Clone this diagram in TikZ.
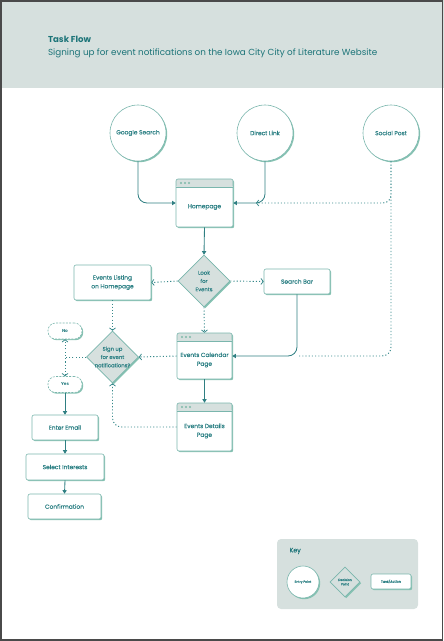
\documentclass[tikz,border=0pt]{standalone}
\usepackage{fontspec}
\setmainfont{Poppins}
\newfontfamily\popmed[FakeBold=0.2]{Poppins}
\usetikzlibrary{shapes.geometric,arrows.meta,shadows,calc}
\definecolor{hdr}{HTML}{D6E0DE}
\definecolor{tealtext}{HTML}{1C7478}
\definecolor{nodetext}{HTML}{2A7F83}
\definecolor{linec}{HTML}{2F7F82}
\definecolor{dotline}{HTML}{36888A}
\definecolor{boxc}{HTML}{7AB6AD}
\definecolor{shc}{HTML}{86C2B2}
\definecolor{dotc}{HTML}{7CB9A8}
\definecolor{framec}{HTML}{4A4A4A}
\tikzset{
  txt/.style={font=\popmed\fontsize{5.9}{8.8}\selectfont, text=nodetext, align=center},
  dtxt/.style={font=\popmed\fontsize{5.3}{8.3}\selectfont, text=nodetext, align=center},
  shad/.style={drop shadow={shadow xshift=1.2pt, shadow yshift=-1.2pt, fill=shc, opacity=1}},
  entry/.style={circle, draw=boxc, line width=0.6pt, fill=white, shad, minimum size=56pt, inner sep=0pt, txt},
  taskbox/.style={rectangle, rounded corners=2pt, draw=boxc, line width=0.6pt, fill=white, shad, inner sep=0pt, txt},
  pill/.style={rectangle, rounded corners=7.5pt, draw=boxc, line width=0.6pt, dash pattern=on 2pt off 1.3pt, fill=white, shad, inner sep=0pt, minimum width=34pt, minimum height=16pt, font=\bfseries\fontsize{4.3}{5}\selectfont, text=nodetext},
  decision/.style={diamond, draw=boxc, line width=0.6pt, fill=hdr, shad, inner sep=0pt, minimum width=52pt, minimum height=52pt},
  browser/.style={rectangle, rounded corners=2pt, draw=boxc, line width=0.6pt, fill=white, shad, inner sep=0pt,
    path picture={
      \fill[hdr] (path picture bounding box.north west) rectangle ([yshift=-8pt]path picture bounding box.north east);
      \draw[boxc, line width=0.6pt] ([yshift=-8pt]path picture bounding box.north west) -- ([yshift=-8pt]path picture bounding box.north east);
      \foreach \i in {0,1,2} \fill[dotc] ([xshift={5pt+\i*4pt}, yshift=-4pt]path picture bounding box.north west) circle (1.1pt);
    }},
  btext/.style={txt, yshift=-4pt},
  solidarrow/.style={draw=linec, line width=0.85pt, -{Triangle[length=3.5pt,width=4.2pt]}},
  dotpath/.style={draw=dotline, line width=0.95pt, dash pattern=on 1.1pt off 2.1pt},
  dotarrow/.style={dotpath, -{Straight Barb[length=2.3pt,width=6pt,line width=0.75pt]}}
}
\begin{document}
\begin{tikzpicture}[x=1pt,y=-1pt]
\useasboundingbox (0,0) rectangle (444,641);
\fill[hdr] (0,0) rectangle (444,88);
\node[anchor=west, font=\bfseries\fontsize{8.6}{10}\selectfont, text=tealtext] (title) at (44.5,39.5) {Task Flow};
\node[anchor=west, font=\fontsize{8.8}{10}\selectfont, text=tealtext] (subtitle) at (44.5,53) {Signing up for event notifications on the Iowa City City of Literature Website};

% entry points
\node[entry] (gs) at (138,133) {Google Search};
\node[entry] (dl) at (265,133) {Direct Link};
\node[entry] (sp) at (391,133) {Social Post};

% browser pages
\node[browser, minimum width=57pt, minimum height=48pt, label={[btext]center:Homepage}] (home) at (204.5,203) {};
\node[browser, minimum width=55pt, minimum height=46pt, label={[btext]center:Events Calendar\\Page}] (ec) at (204.5,356) {};
\node[browser, minimum width=55pt, minimum height=48pt, label={[btext]center:Events Details\\Page}] (ed) at (204.5,427) {};

% decisions
\node[decision, label={[dtxt]center:Look\\for\\Events}] (look) at (204,281) {};
\node[decision, label={[dtxt]center:Sign up\\for event\\notifications?}] (su) at (112.5,357) {};

% tasks
\node[taskbox, minimum width=77pt, minimum height=35pt] (evl) at (112.5,282.5) {Events Listing\\on Homepage};
\node[taskbox, minimum width=66pt, minimum height=25pt] (sb) at (297,281.5) {Search Bar};
\node[pill] (no) at (65,331) {No};
\node[pill] (yes) at (65,384.5) {Yes};
\node[taskbox, minimum width=66pt, minimum height=25pt] (email) at (65,427.5) {Enter Email};
\node[taskbox, minimum width=78pt, minimum height=26pt] (int) at (65,467) {Select Interests};
\node[taskbox, minimum width=73pt, minimum height=25pt] (conf) at (64.5,506.5) {Confirmation};

% connectors
\draw[solidarrow, rounded corners=9pt] (gs.south) |- (home.west);
\draw[solidarrow, rounded corners=9pt] (dl.south) |- (home.east);
\draw[dotarrow, rounded corners=8pt] (sp.south) |- ([xshift=-9pt]dl.south |- home.east);
\draw[dotpath, rounded corners=9pt] (sp.south) |- (sb.south |- ec.east);
\draw[solidarrow] (home.south) -- (look.north);
\draw[dotarrow] (look.west) -- (evl.east);
\draw[dotarrow] (look.east) -- (sb.west);
\draw[dotarrow] (look.south) -- (ec.north);
\draw[solidarrow, rounded corners=9pt] (sb.south) |- (ec.east);
\draw[dotarrow] (ec.west) -- (su.east);
\draw[dotarrow] (evl.south) -- (su.north);
\draw[dotarrow] (su.west) -| (no.south);
\draw[dotarrow] (su.west) -| (yes.north);
\draw[dotarrow, rounded corners=9pt] (ed.west) -| (su.south);
\draw[solidarrow] (yes.south) -- (email.north);
\draw[solidarrow] (email.south) -- (int.north);
\draw[solidarrow] (int.south) -- (conf.north);
\draw[solidarrow] (ec.south) -- (ed.north);

% key
\node[fill=hdr, rounded corners=4pt, minimum width=141pt, minimum height=70pt, inner sep=0pt] (keybox) at (347.5,574) {};
\node[anchor=west, font=\popmed\fontsize{6.3}{7}\selectfont, text=tealtext] (keytitle) at (286,551) {Key};
\node[entry, minimum size=32pt, font=\popmed\fontsize{3.2}{4}\selectfont] (kentry) at (303,582) {Entry Point};
\node[decision, minimum width=30pt, minimum height=30pt, label={[font=\popmed\fontsize{3.2}{4.4}\selectfont, text=nodetext, align=center]center:Decision\\Point}] (kdec) at (345,582) {};
\node[taskbox, minimum width=40pt, minimum height=15pt, font=\popmed\fontsize{3.4}{4}\selectfont] (ktask) at (391,581.5) {Task/Action};

\draw[framec, line width=1.6pt] (0.8,0.8) rectangle (442.6,640.2);
\end{tikzpicture}
\end{document}
